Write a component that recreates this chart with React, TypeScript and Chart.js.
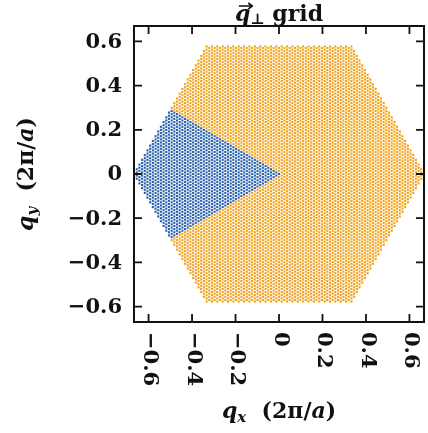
import React, { useEffect, useRef } from "react";
import { Chart, registerables } from "chart.js";

Chart.register(...registerables);

// ---- data ----
// q-grid: Monkhorst-Pack style triangular lattice, GRID_N divisions of each reciprocal vector
const GRID_N = 81;
// Brillouin-zone hexagon (units of 2π/a), counter-clockwise
const HEX_VERTICES: number[][] = [
  [0.6666667, 0],
  [0.3333333, 0.5773503],
  [-0.3333333, 0.5773503],
  [-0.6666667, 0],
  [-0.3333333, -0.5773503],
  [0.3333333, -0.5773503],
];
// highlighted (blue) wedge, counter-clockwise
const WEDGE_VERTICES: number[][] = [
  [0, 0],
  [-0.5, 0.2886751],
  [-0.6666667, 0],
  [-0.5, -0.2886751],
];
const X_TICKS = [-0.6, -0.4, -0.2, 0, 0.2, 0.4, 0.6];
const Y_TICKS = [-0.6, -0.4, -0.2, 0, 0.2, 0.4, 0.6];
const X_RANGE = [-0.667, 0.667];
const Y_RANGE = [-0.67, 0.67];
const COLORS = ["#f0a21c", "#2860ac"];

function inside(poly: number[][], x: number, y: number) {
  const eps = 1e-6;
  for (let i = 0; i < poly.length; i++) {
    const a = poly[i];
    const b = poly[(i + 1) % poly.length];
    const c = (b[0] - a[0]) * (y - a[1]) - (b[1] - a[1]) * (x - a[0]);
    if (c < -eps) return false;
  }
  return true;
}

function buildGrid() {
  const orange: { x: number; y: number }[] = [];
  const blue: { x: number; y: number }[] = [];
  const s3 = Math.sqrt(3);
  for (let m = -GRID_N; m <= GRID_N; m++) {
    for (let k = -2 * GRID_N; k <= 2 * GRID_N; k++) {
      if (((k - m) % 2 + 2) % 2 !== 0) continue;
      const x = m / GRID_N;
      const y = k / (s3 * GRID_N);
      if (!inside(HEX_VERTICES, x, y)) continue;
      if (inside(WEDGE_VERTICES, x, y)) blue.push({ x, y });
      else orange.push({ x, y });
    }
  }
  return { orange, blue };
}

const fmt = (v: number) => {
  if (Math.abs(v) < 1e-9) return "0";
  const s = Math.abs(v).toFixed(1);
  return v < 0 ? "\u2212" + s : s;
};

type Seg = { t: string; f: string; dy?: number; arrow?: boolean };
function richWidth(ctx: CanvasRenderingContext2D, segs: Seg[]) {
  let w = 0;
  for (const s of segs) {
    ctx.font = s.f;
    w += ctx.measureText(s.t).width;
  }
  return w;
}
function drawRich(ctx: CanvasRenderingContext2D, segs: Seg[], cx: number, by: number) {
  const w = richWidth(ctx, segs);
  let x = cx - w / 2;
  ctx.textAlign = "left";
  ctx.textBaseline = "alphabetic";
  for (const s of segs) {
    ctx.font = s.f;
    const sw = ctx.measureText(s.t).width;
    ctx.fillText(s.t, x, by + (s.dy || 0));
    if (s.arrow) {
      const ay = by - 15;
      const x0 = x + 4;
      const x1 = x + sw + 2;
      ctx.save();
      ctx.lineWidth = 1.6;
      ctx.strokeStyle = ctx.fillStyle as string;
      ctx.beginPath();
      ctx.moveTo(x0, ay);
      ctx.lineTo(x1, ay);
      ctx.moveTo(x1 - 4, ay - 3);
      ctx.lineTo(x1, ay);
      ctx.lineTo(x1 - 4, ay + 3);
      ctx.stroke();
      ctx.restore();
    }
    x += sw;
  }
}

const FAM = "'DejaVu Serif', serif";
const TICK_FONT = `bold 21px ${FAM}`;
const BIG = `bold 22px ${FAM}`;
const BIG_I = `italic bold 22px ${FAM}`;
const SUB_I = `italic bold 15px ${FAM}`;
const SUB = `bold 15px ${FAM}`;

const framePlugin = {
  id: "frame",
  afterDraw(chart: any) {
    const ctx: CanvasRenderingContext2D = chart.ctx;
    const { left, right, top, bottom } = chart.chartArea;
    const xs = chart.scales.x;
    const ys = chart.scales.y;
    ctx.save();
    ctx.strokeStyle = "#111";
    ctx.lineWidth = 2;
    ctx.strokeRect(left, top, right - left, bottom - top);
    ctx.lineWidth = 1.8;
    const TL = 8;
    ctx.beginPath();
    for (const v of X_TICKS) {
      const px = xs.getPixelForValue(v);
      ctx.moveTo(px, bottom);
      ctx.lineTo(px, bottom - TL);
      ctx.moveTo(px, top);
      ctx.lineTo(px, top + TL);
    }
    for (const v of Y_TICKS) {
      const py = ys.getPixelForValue(v);
      ctx.moveTo(left, py);
      ctx.lineTo(left + TL, py);
      ctx.moveTo(right, py);
      ctx.lineTo(right - TL, py);
    }
    ctx.stroke();

    ctx.fillStyle = "#111";
    ctx.font = TICK_FONT;
    // y tick labels
    ctx.textAlign = "right";
    ctx.textBaseline = "middle";
    for (const v of Y_TICKS) {
      ctx.fillText(fmt(v), left - 12, ys.getPixelForValue(v) + 1);
    }
    // x tick labels, rotated clockwise
    for (const v of X_TICKS) {
      const px = xs.getPixelForValue(v);
      ctx.save();
      ctx.translate(px + 1, bottom + 10);
      ctx.rotate(Math.PI / 2);
      ctx.textAlign = "left";
      ctx.textBaseline = "middle";
      ctx.font = TICK_FONT;
      ctx.fillText(fmt(v), 0, 0);
      ctx.restore();
    }
    // title
    const cx = (left + right) / 2;
    drawRich(ctx, [
      { t: "q", f: BIG_I, arrow: true },
      { t: "\u22A5", f: SUB, dy: 3 },
      { t: " grid", f: BIG },
    ], cx, 21);
    // axis titles
    const axisSegs = (sub: string): Seg[] => [
      { t: "q", f: BIG_I },
      { t: sub, f: SUB_I, dy: 4 },
      { t: "  (2\u03C0/", f: BIG },
      { t: "a", f: BIG_I },
      { t: ")", f: BIG },
    ];
    drawRich(ctx, axisSegs("x"), cx, 418);
    ctx.save();
    ctx.translate(33, (top + bottom) / 2);
    ctx.rotate(-Math.PI / 2);
    drawRich(ctx, axisSegs("y"), 0, 0);
    ctx.restore();
    ctx.restore();
  },
};

export default function App() {
  const ref = useRef<HTMLCanvasElement | null>(null);
  useEffect(() => {
    if (!ref.current) return;
    const { orange, blue } = buildGrid();
    const chart = new Chart(ref.current, {
      type: "scatter",
      data: {
        datasets: [
          { data: orange, backgroundColor: COLORS[0], pointStyle: "rect", pointRadius: 1.5, borderWidth: 0, clip: false } as any,
          { data: blue, backgroundColor: COLORS[1], pointStyle: "rect", pointRadius: 1.5, borderWidth: 0, clip: false } as any,
        ],
      },
      options: {
        responsive: false,
        animation: false,
        events: [],
        layout: { padding: { left: 134, top: 26, right: 1, bottom: 111 } },
        scales: {
          x: { type: "linear", display: false, min: X_RANGE[0], max: X_RANGE[1] },
          y: { type: "linear", display: false, min: Y_RANGE[0], max: Y_RANGE[1] },
        },
        plugins: { legend: { display: false }, tooltip: { enabled: false } },
      },
      plugins: [framePlugin],
    });
    return () => chart.destroy();
  }, []);
  return (
    <div style={{ position: "fixed", left: 0, top: 0, width: 428, height: 433, background: "#fff" }}>
      <canvas ref={ref} width={428} height={433} />
    </div>
  );
}
